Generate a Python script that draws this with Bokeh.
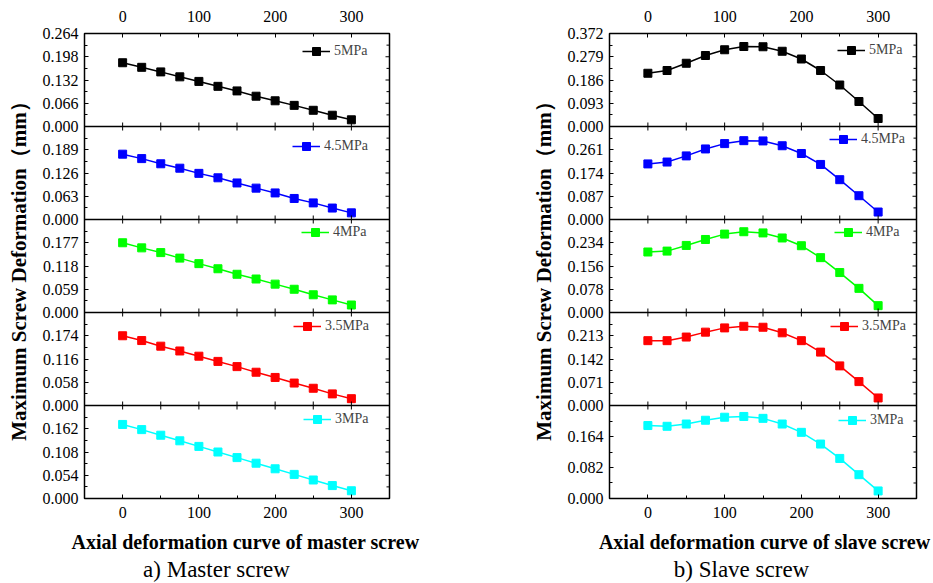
import numpy as np
from bokeh.plotting import figure
from bokeh.models import Range1d, LinearAxis, FixedTicker, Span, Legend, LegendItem
from bokeh.layouts import column, row
from bokeh.embed import file_html
from bokeh.resources import INLINE
from bokeh.core.properties import value

# ---------------- data ----------------
x_pos = [0, 25, 50, 75, 100, 125, 150, 175, 200, 225, 250, 275, 300]
pressures = ["5MPa", "4.5MPa", "4MPa", "3.5MPa", "3MPa"]
colors = ["#000000", "#0000FF", "#00FF00", "#FF0000", "#00FFFF"]

master_5 = [0.181, 0.168, 0.155, 0.141, 0.128, 0.114, 0.101, 0.086, 0.073, 0.060, 0.046, 0.032, 0.019]
master_45 = [0.177, 0.165, 0.151, 0.139, 0.125, 0.113, 0.099, 0.085, 0.072, 0.057, 0.045, 0.031, 0.018]
master_4 = [0.177, 0.164, 0.152, 0.138, 0.124, 0.111, 0.097, 0.085, 0.072, 0.059, 0.045, 0.032, 0.019]
master_35 = [0.174, 0.162, 0.148, 0.136, 0.123, 0.110, 0.097, 0.083, 0.070, 0.056, 0.043, 0.029, 0.017]
master_3 = [0.172, 0.160, 0.147, 0.134, 0.121, 0.108, 0.095, 0.082, 0.069, 0.056, 0.043, 0.030, 0.018]

slave_5 = [0.213, 0.224, 0.253, 0.284, 0.307, 0.320, 0.319, 0.301, 0.270, 0.224, 0.166, 0.100, 0.032]
slave_45 = [0.208, 0.215, 0.238, 0.264, 0.284, 0.295, 0.294, 0.276, 0.247, 0.206, 0.149, 0.089, 0.028]
slave_4 = [0.203, 0.206, 0.225, 0.245, 0.263, 0.271, 0.267, 0.250, 0.224, 0.184, 0.134, 0.081, 0.023]
slave_35 = [0.198, 0.198, 0.209, 0.224, 0.237, 0.242, 0.239, 0.222, 0.198, 0.163, 0.121, 0.073, 0.023]
slave_3 = [0.193, 0.191, 0.197, 0.207, 0.215, 0.217, 0.212, 0.197, 0.175, 0.144, 0.106, 0.063, 0.020]

master_tops = [0.264, 0.252, 0.236, 0.232, 0.216]
master_steps = [0.066, 0.063, 0.059, 0.058, 0.054]
slave_tops = [0.372, 0.348, 0.312, 0.284, 0.246]
slave_steps = [0.093, 0.087, 0.078, 0.071, 0.082]

x_ticks = [0, 100, 200, 300]
x_minor = [50, 150, 250]

y_title = "Maximum Screw Deformation（mm）"
x_title_master = "Axial deformation curve of master screw"
x_title_slave = "Axial deformation curve of slave screw"
caption_master = "a) Master screw"
caption_slave = "b) Slave screw"

FONT = "Liberation Serif"
N = 5
FRAME_H = 465
BAND_H = FRAME_H / N
X0, X1 = -50, 350
LEG_H = 20


def style_axis(ax):
    ax.axis_line_color = None
    ax.major_tick_in = 4
    ax.major_tick_out = 0
    ax.minor_tick_in = 3
    ax.minor_tick_out = 0
    ax.major_tick_line_color = "black"
    ax.minor_tick_line_color = "black"
    ax.major_label_text_font = FONT
    ax.major_label_text_font_size = "16px"
    ax.major_label_text_color = "black"
    ax.major_label_standoff = 6


def make_panel(series, tops, steps, leg_x, leg_dy, frame_w, border_left, border_right):
    p = figure(width=border_left + frame_w + border_right, height=33 + FRAME_H + 30,
               x_range=Range1d(X0, X1), y_range=Range1d(0, N),
               output_backend="svg", toolbar_location=None,
               min_border_left=border_left, min_border_right=border_right,
               min_border_top=33, min_border_bottom=30,
               x_axis_location=None, y_axis_location=None)
    p.grid.visible = False
    p.outline_line_color = "black"
    p.outline_line_width = 1.5
    p.background_fill_color = "white"
    p.border_fill_color = "white"

    extra = {}
    major, minor, labels = [], [], {}
    for idx in range(N):
        j = N - 1 - idx
        T, s = tops[idx], steps[idx]
        extra[f"r{idx}"] = Range1d(-j * T, (N - j) * T)
        n = int(round(T / s))
        for k in range(n + 1):
            pos = round(j + k * s / T, 6)
            if pos not in major:
                major.append(pos)
            if (k < n or idx == 0) and pos not in labels:
                labels[pos] = f"{k * s:.3f}"
        for k in range(n):
            minor.append(round(j + (k + 0.5) * s / T, 6))
    p.extra_y_ranges = extra

    for idx in range(N):
        rn = f"r{idx}"
        l = p.line(x_pos, series[idx], line_color=colors[idx], line_width=1.5, y_range_name=rn)
        sc = p.scatter(x_pos, series[idx], marker="square", size=8, fill_color=colors[idx],
                       line_color=colors[idx], y_range_name=rn)
        y_loc = FRAME_H - idx * BAND_H - leg_dy[idx] - LEG_H / 2
        leg = Legend(items=[LegendItem(label=pressures[idx], renderers=[l, sc])],
                     location=(leg_x[idx], y_loc), padding=0, margin=0,
                     border_line_color=None, background_fill_alpha=0,
                     glyph_width=28, glyph_height=LEG_H, label_height=LEG_H, label_standoff=4,
                     label_text_font=FONT, label_text_font_size="14px")
        p.add_layout(leg)

    # panel separators and their inward x ticks (both neighbouring panels)
    for b in range(1, N):
        p.add_layout(Span(location=b, dimension="width", line_color="black", line_width=1.5))
    bx = [x for b in range(1, N) for x in (x_ticks + x_minor)]
    by = [b for b in range(1, N) for _ in (x_ticks + x_minor)]
    p.scatter(bx, by, marker="dash", angle=np.pi / 2, size=8, line_color="black", line_width=1)

    # mirrored inward ticks on the right frame edge
    px_to_x = (X1 - X0) / frame_w
    p.segment(x0=[X1] * len(major), y0=major, x1=[X1 - 4 * px_to_x] * len(major), y1=major,
              line_color="black", line_width=1)
    p.segment(x0=[X1] * len(minor), y0=minor, x1=[X1 - 3 * px_to_x] * len(minor), y1=minor,
              line_color="black", line_width=1)

    yl = LinearAxis(ticker=FixedTicker(ticks=major, minor_ticks=minor), major_label_overrides=labels)
    style_axis(yl)
    yl.axis_label = y_title
    yl.axis_label_text_font = FONT
    yl.axis_label_text_font_style = "bold"
    yl.axis_label_text_font_size = "21px"
    yl.axis_label_text_color = "black"
    yl.axis_label_standoff = 9
    p.add_layout(yl, "left")

    xt = LinearAxis(ticker=FixedTicker(ticks=x_ticks, minor_ticks=x_minor))
    style_axis(xt)
    xt.major_label_standoff = 12
    p.add_layout(xt, "above")

    xb = LinearAxis(ticker=FixedTicker(ticks=x_ticks, minor_ticks=x_minor))
    style_axis(xb)
    xb.major_label_standoff = 8
    p.add_layout(xb, "below")
    return p


pL = make_panel([master_5, master_45, master_4, master_35, master_3], master_tops, master_steps,
                leg_x=[218, 208, 217, 209, 219], leg_dy=[18, 19.5, 12.7, 14, 13.7],
                frame_w=305, border_left=84, border_right=136)
pR = make_panel([slave_5, slave_45, slave_4, slave_35, slave_3], slave_tops, slave_steps,
                leg_x=[228, 220, 225, 221, 229], leg_dy=[16.8, 13.3, 12.7, 14, 15.3],
                frame_w=307, border_left=84, border_right=17)

cap = figure(width=933, height=55, x_range=Range1d(0, 933), y_range=Range1d(0, 55),
             output_backend="svg", toolbar_location=None, min_border=0,
             x_axis_location=None, y_axis_location=None)
cap.grid.visible = False
cap.outline_line_color = None
cap.text(x=[245, 764], y=[42, 42], text=[x_title_master, x_title_slave],
         text_font=value(FONT), text_font_style="bold", text_font_size="20px",
         text_align="center", text_baseline="middle", text_color="black")
cap.text(x=[216, 741], y=[14, 14], text=[caption_master, caption_slave],
         text_font=value(FONT), text_font_size="23px",
         text_align="center", text_baseline="middle", text_color="black")

layout = column(row(pL, pR), cap)
open("out.html", "w").write(file_html(layout, INLINE))
